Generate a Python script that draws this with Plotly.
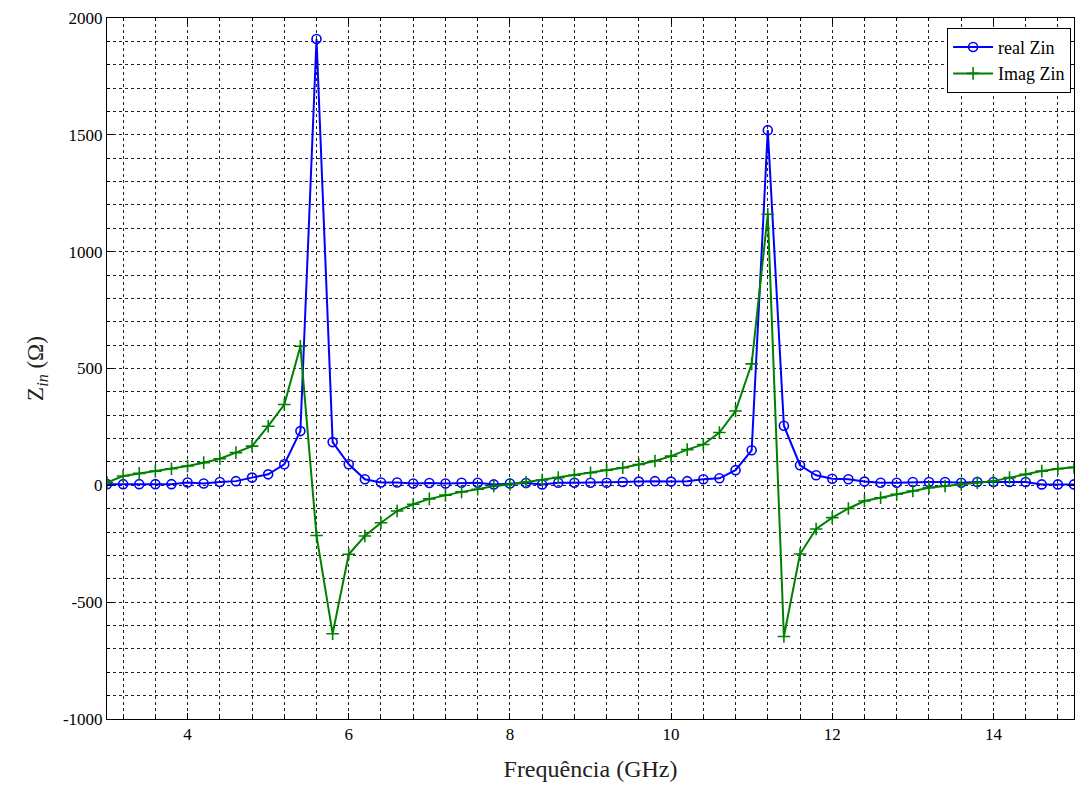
import plotly.graph_objects as go

# Frequency sweep (GHz), 0.2 GHz step
freq_ghz = [round(3.0 + 0.2 * i, 1) for i in range(61)]

# Real part of input impedance (ohm)
real_zin = [
    5, 5, 5, 5, 5, 12, 8, 14, 18, 33,
    47, 90, 232, 1910, 185, 90, 26, 12, 12, 8,
    10, 8, 11, 11, 4, 8, 10, 4, 11, 11,
    11, 11, 14, 16, 18, 16, 18, 26, 30, 65,
    150, 1520, 255, 86, 43, 28, 26, 16, 11, 11,
    14, 14, 14, 11, 14, 14, 14, 14, 4, 4,
    4,
]

# Imaginary part of input impedance (ohm)
imag_zin = [
    12, 40, 51, 61, 71, 83, 97, 114, 140, 168,
    253, 346, 595, -215, -635, -295, -217, -160, -110, -81,
    -58, -42, -28, -17, -3, 4, 14, 23, 33, 43,
    54, 65, 75, 89, 104, 125, 153, 175, 226, 318,
    520, 1160, -647, -294, -187, -138, -99, -67, -53, -38,
    -24, -10, -3, 4, 11, 18, 33, 47, 61, 71,
    77,
]

x_ticks = [4, 6, 8, 10, 12, 14]
y_ticks = [-1000, -500, 0, 500, 1000, 1500, 2000]
y_tick_text = ["-1000", "-500", "0", "500", "1000", "1500", "2000"]

serif = "Liberation Serif, Times New Roman, serif"
dash = "3px,3px"

fig = go.Figure()
fig.add_trace(go.Scatter(
    x=freq_ghz, y=real_zin, name="real Zin", mode="lines+markers",
    line=dict(color="#0000ff", width=2),
    marker=dict(symbol="circle-open", size=9, color="#0000ff",
                line=dict(width=1.6, color="#0000ff")),
))
fig.add_trace(go.Scatter(
    x=freq_ghz, y=imag_zin, name="Imag Zin", mode="lines+markers",
    line=dict(color="#008000", width=2),
    marker=dict(symbol="cross-thin-open", size=9, color="#008000",
                line=dict(width=1.6, color="#008000")),
))

grid_style = dict(showgrid=True, gridcolor="#222222", gridwidth=1, griddash=dash)

fig.update_xaxes(
    range=[3, 15], tickvals=x_ticks,
    showline=True, linecolor="black", linewidth=1, mirror="ticks",
    ticks="inside", ticklen=6, tickcolor="black",
    tickfont=dict(family=serif, size=17, color="black"),
    title=dict(text="Frequência (GHz)", font=dict(family=serif, size=24, color="#222222"), standoff=16),
    zeroline=False,
    minor=dict(dtick=0.4, tick0=3.2, showgrid=True, gridcolor="#222222",
               gridwidth=1, griddash=dash, ticks="inside", ticklen=3, tickcolor="black"),
    **grid_style,
)
fig.update_yaxes(
    range=[-1000, 2000], tickvals=y_ticks, ticktext=y_tick_text,
    showline=True, linecolor="black", linewidth=1, mirror="ticks",
    ticks="inside", ticklen=6, tickcolor="black",
    tickfont=dict(family=serif, size=17, color="black"),
    title=dict(text="Z<sub><i>in</i></sub> (Ω)", font=dict(family=serif, size=23, color="#222222"), standoff=12),
    zeroline=False,
    minor=dict(dtick=100, showgrid=True, gridcolor="#222222",
               gridwidth=1, griddash=dash, ticks="inside", ticklen=3, tickcolor="black"),
    **grid_style,
)

fig.update_layout(
    width=1075, height=796,
    margin=dict(l=107, r=1, t=18, b=77),
    paper_bgcolor="white", plot_bgcolor="white",
    font=dict(family=serif, color="black"),
    legend=dict(
        x=0.997, y=0.986, xanchor="right", yanchor="top",
        bgcolor="white", bordercolor="black", borderwidth=1,
        font=dict(family=serif, size=18, color="black"),
        tracegroupgap=4, itemwidth=40,
    ),
)

fig.write_html("out.html")
